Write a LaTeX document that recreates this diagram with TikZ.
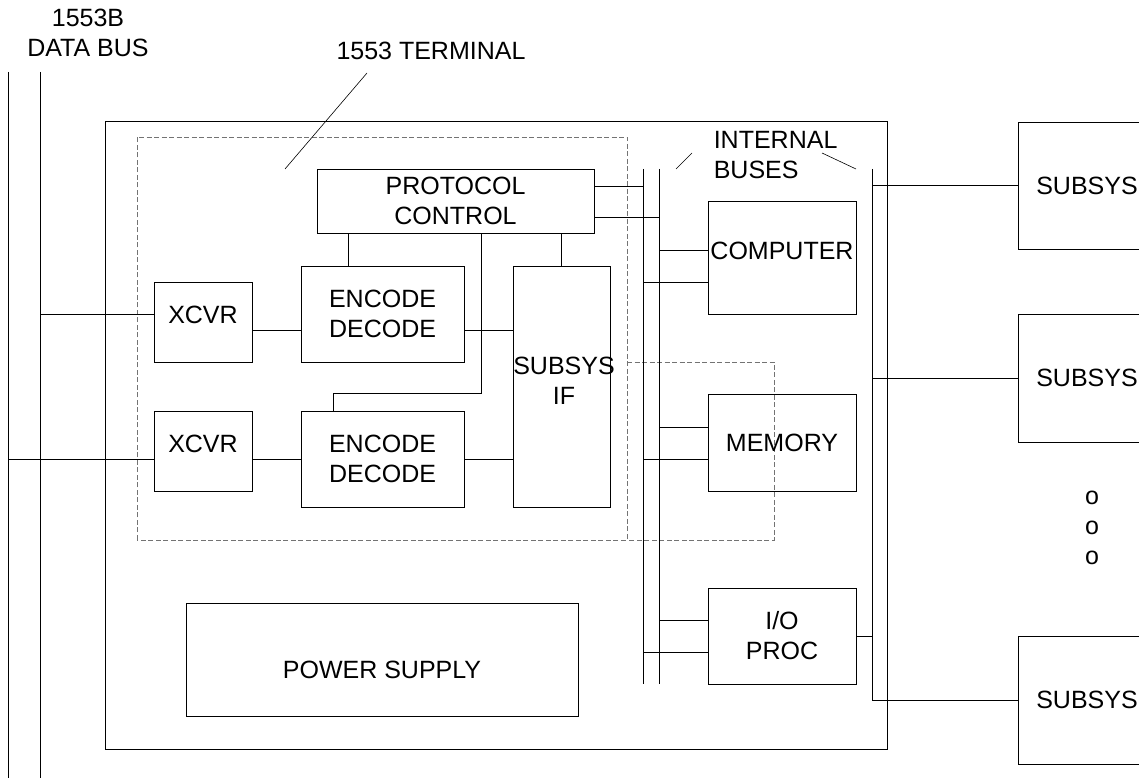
\documentclass[tikz,border=0pt]{standalone}
\usepackage{fontspec}
\setmainfont{Liberation Sans}
\tikzset{>=latex}
\definecolor{dsh}{gray}{.45}
\tikzset{
    box/.style={draw, inner sep=0pt, align=center},
    lead/.style={line width=.6pt},
    dbox/.style={draw=dsh, line width=.8pt, dash pattern=on 5pt off 2.5pt}
}
\newcommand{\wire}[3]{
	\draw ([yshift=#3]#1) -- ([yshift=#3]#1 -| #2)
}
\newcommand{\lift}[2]{\raisebox{#1}[\height][\depth]{#2}}

\begin{document}
\begin{tikzpicture}[x=1pt, y=1pt, line width=.9pt, font=\fontsize{25}{30}\selectfont]
    \useasboundingbox (0,0) rectangle (1139,778);
    \clip (0,0) rectangle (1139,778);
    % 1553B data bus
    \coordinate (busA) at (8,706);
    \coordinate (busB) at (40,706);
    \draw (busA) -- (8,0);
    \draw (busB) -- (40,0);
    \node[align=center] (bustxt) at (88,745) {1553B\\DATA BUS};
    % unit outline and terminal
    \draw (105,29) rectangle (887,657);
    \draw[dbox] (137,238) rectangle (627,641);
    \draw[dbox] (627,416) -| (774,238) -- (627,238);
    \node (termtxt) at (431,727) {1553 TERMINAL};
    \coordinate (termlead) at (367,705);
    \draw[lead] (termlead) -- (285,609);
    \node[box, minimum width=277, minimum height=64] (proto) at (455.5,577) {PROTOCOL\\CONTROL};
    \node[box, minimum width=98, minimum height=80] (xcvrA) at (203,456) {\lift{7pt}{XCVR}};
    \node[box, minimum width=98, minimum height=80] (xcvrB) at (203,327) {\lift{7pt}{XCVR}};
    \node[box, minimum width=163, minimum height=96] (encA) at (382.5,464) {ENCODE\\DECODE};
    \node[box, minimum width=163, minimum height=96] (encB) at (382.5,319) {ENCODE\\DECODE};
    \node[box, minimum width=97, minimum height=241] (sif) at (561.5,391.5) {};
    \node[align=center] (siftxt) at (564,397) {SUBSYS\\IF};
    \wire{xcvrA.west}{busB}{8pt};
    \wire{xcvrB.west}{busA}{-8pt};
    \wire{xcvrA.east}{encA.west}{-8pt};
    \wire{xcvrB.east}{encB.west}{-8pt};
    \wire{encA.east}{sif.west}{-16pt};
    \wire{encB.east}{sif.west}{0pt};
    \draw ([xshift=-34pt]encA.north) -- ([xshift=-34pt]encA.north |- proto.south);
    \draw (sif.north) -- (sif.north |- proto.south);
    \draw ([xshift=25.5pt]proto.south) |- ([xshift=-49.5pt, yshift=17pt]encB.north) -- ([xshift=-49.5pt]encB.north);
    % internal buses
    \coordinate (ibA) at (643,609);
    \coordinate (ibB) at (659,609);
    \coordinate (rbus) at (872,609);
    \draw (ibA) -- (643,94);
    \draw (ibB) -- (659,94);
    \node[align=left, anchor=west] (ibtxt) at (710,622.5) {INTERNAL\\BUSES};
    \coordinate (ibleadA) at (692,625);
    \coordinate (ibleadB) at (822,625);
    \draw[lead] (ibleadA) -- (676,609);
    \draw[lead] (ibleadB) -- (856,609);
    \wire{proto.east}{ibA}{15pt};
    \wire{proto.east}{ibB}{-16pt};
    \node[box, minimum width=148, minimum height=113] (comp) at (782,520.5) {\lift{7pt}{COMPUTER}};
    \node[box, minimum width=148, minimum height=97] (mem) at (782,335.5) {MEMORY};
    \node[box, minimum width=148, minimum height=96] (io) at (782,142) {I/O\\PROC};
    \wire{comp.west}{ibB}{7.5pt};
    \wire{comp.west}{ibA}{-24.5pt};
    \wire{mem.west}{ibB}{15.5pt};
    \wire{mem.west}{ibA}{-16.5pt};
    \wire{io.west}{ibB}{16pt};
    \wire{io.west}{ibA}{-16pt};
    \node[box, minimum width=392, minimum height=113] (power) at (382,118.5) {\lift{-10pt}{POWER SUPPLY}};
    % subsystems
    \node[box, minimum width=138, minimum height=127] (subA) at (1087,592.5) {SUBSYS};
    \node[box, minimum width=138, minimum height=128] (subB) at (1087,400) {SUBSYS};
    \node[box, minimum width=138, minimum height=128] (subC) at (1087,78) {SUBSYS};
    \node[align=center] (dots) at (1092,250) {o\\o\\o};
    \draw (rbus) |- (subC.west);
    \wire{io.east}{rbus}{0pt};
    \wire{subA.west}{rbus}{0pt};
    \wire{subB.west}{rbus}{0pt};
\end{tikzpicture}
\end{document}
